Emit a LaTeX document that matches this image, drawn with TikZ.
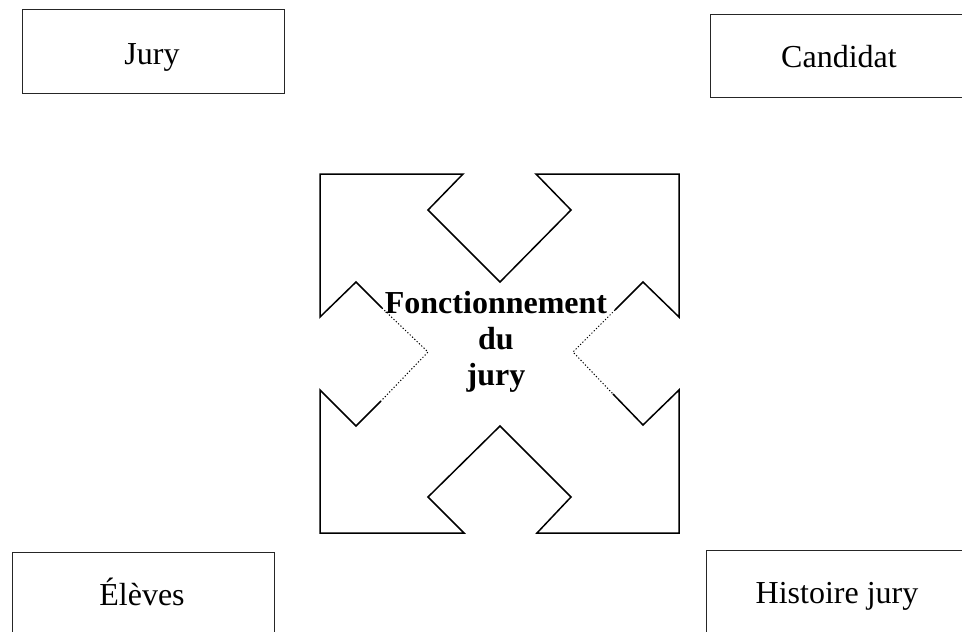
\documentclass[tikz,border=0pt]{standalone}
\usepackage{fontspec}
\setmainfont{Liberation Serif}
\begin{document}
\begin{tikzpicture}[x=1pt,y=-1pt,
  box/.style={draw=black!85,line width=1pt},
  lbl/.style={font=\fontsize{32}{36}\selectfont,anchor=base,inner sep=0pt},
  blbl/.style={font=\fontsize{32}{36}\selectfont\bfseries,anchor=base,inner sep=0pt},
  outl/.style={line width=1.5pt,line join=miter},
  hid/.style={line width=1pt,dash pattern=on 1.2pt off 2pt}]
\useasboundingbox (0,0) rectangle (962,632);
% boxes
\draw[box] (22,9) rectangle (284,93);
\node[lbl] (jury) at (152,64) {Jury};
\draw[box] (710,14) rectangle (990,97);
\node[lbl] (cand) at (839,67) {Candidat};
\draw[box] (12,552) rectangle (274,650);
\node[lbl] (eleves) at (142,605) {Élèves};
\draw[box] (706,550) rectangle (990,650);
\node[lbl] (hist) at (837,603) {Histoire jury};
% central four-way shape
\coordinate (p1) at (320,174);
\coordinate (p2) at (463,174);
\coordinate (p3) at (428,210);
\coordinate (p4) at (500,282);
\coordinate (p5) at (571,210);
\coordinate (p6) at (536,174);
\coordinate (p7) at (679,174);
\coordinate (p8) at (679,317);
\coordinate (p9) at (643,282);
\coordinate (p10) at (615,310);
\coordinate (p11) at (573,352);
\coordinate (p12) at (613,394);
\coordinate (p13) at (643,425);
\coordinate (p14) at (679,390);
\coordinate (p15) at (679,533);
\coordinate (p16) at (537,533);
\coordinate (p17) at (571,497);
\coordinate (p18) at (500,426);
\coordinate (p19) at (428,497);
\coordinate (p20) at (464,533);
\coordinate (p21) at (320,533);
\coordinate (p22) at (320,390);
\coordinate (p23) at (356,426);
\coordinate (p24) at (381,401);
\coordinate (p25) at (428,352);
\coordinate (p26) at (382,308);
\coordinate (p27) at (356,282);
\coordinate (p28) at (320,317);
\draw[outl] (p10) -- (p9) -- (p8) -- (p7) -- (p6) -- (p5) -- (p4) -- (p3) -- (p2) -- (p1) -- (p28) -- (p27) -- (p26);
\draw[outl] (p24) -- (p23) -- (p22) -- (p21) -- (p20) -- (p19) -- (p18) -- (p17) -- (p16) -- (p15) -- (p14) -- (p13) -- (p12);
\draw[hid] (p26) -- (p25) -- (p24);
\draw[hid] (p10) -- (p11) -- (p12);
\node[blbl] (f1) at (496,313) {Fonctionnement};
\node[blbl] (f2) at (496,349) {du};
\node[blbl] (f3) at (496,385) {jury};
\end{tikzpicture}
\end{document}
